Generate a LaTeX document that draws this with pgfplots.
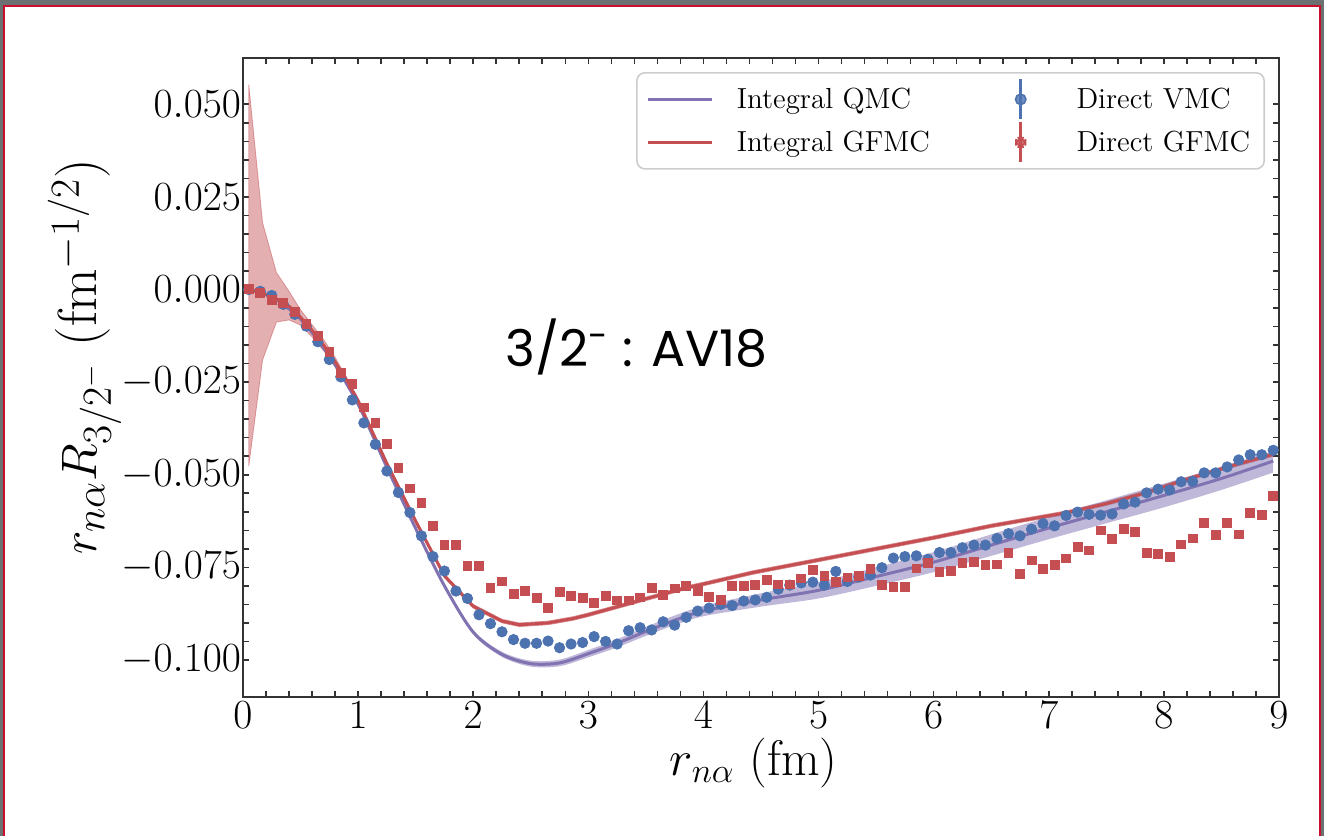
\documentclass[border=0pt]{standalone}
\usepackage{fontspec}
\usepackage{pgfplots}
\pgfplotsset{compat=1.18}
\usepackage{pgfplotstable}
\usepgfplotslibrary{fillbetween}
\newfontfamily\poppins{Poppins}
\definecolor{qmcpurple}{HTML}{8172B2}
\definecolor{gfred}{HTML}{C44E52}
\definecolor{vmcblue}{HTML}{4C72B0}
\definecolor{framegrey}{HTML}{6B7070}
\definecolor{framered}{HTML}{C8102E}

\pgfplotstableread{
x y
0.05 0.0000
0.15 -0.0005
0.25 -0.0016
0.35 -0.0040
0.45 -0.0067
0.55 -0.0099
0.65 -0.0141
0.75 -0.0189
0.85 -0.0236
0.95 -0.0298
1.05 -0.0360
1.15 -0.0418
1.25 -0.0490
1.35 -0.0548
1.45 -0.0602
1.55 -0.0665
1.65 -0.0721
1.75 -0.0760
1.85 -0.0814
1.95 -0.0834
2.05 -0.0878
2.15 -0.0902
2.25 -0.0924
2.35 -0.0945
2.45 -0.0955
2.55 -0.0955
2.65 -0.0949
2.75 -0.0967
2.85 -0.0957
2.95 -0.0953
3.05 -0.0937
3.15 -0.0950
3.25 -0.0957
3.35 -0.0921
3.45 -0.0913
3.55 -0.0919
3.65 -0.0897
3.75 -0.0906
3.85 -0.0885
3.95 -0.0868
4.05 -0.0860
4.15 -0.0850
4.25 -0.0853
4.35 -0.0841
4.45 -0.0838
4.55 -0.0831
4.65 -0.0809
4.75 -0.0798
4.85 -0.0792
4.95 -0.0790
5.05 -0.0798
5.15 -0.0761
5.25 -0.0788
5.35 -0.0776
5.45 -0.0771
5.55 -0.0751
5.65 -0.0725
5.75 -0.0721
5.85 -0.0719
5.95 -0.0728
6.05 -0.0710
6.15 -0.0710
6.25 -0.0697
6.35 -0.0690
6.45 -0.0690
6.55 -0.0672
6.65 -0.0659
6.75 -0.0665
6.85 -0.0647
6.95 -0.0632
7.05 -0.0638
7.15 -0.0610
7.25 -0.0601
7.35 -0.0607
7.45 -0.0609
7.55 -0.0606
7.65 -0.0579
7.75 -0.0574
7.85 -0.0549
7.95 -0.0539
8.05 -0.0541
8.15 -0.0519
8.25 -0.0518
8.35 -0.0495
8.45 -0.0495
8.55 -0.0479
8.65 -0.0460
8.75 -0.0446
8.85 -0.0446
8.95 -0.0434
}\vmc

\pgfplotstableread{
x y
0.05 0.0002
0.15 -0.0009
0.25 -0.0027
0.35 -0.0036
0.45 -0.0060
0.55 -0.0092
0.65 -0.0126
0.75 -0.0169
0.85 -0.0225
0.95 -0.0254
1.05 -0.0318
1.15 -0.0361
1.25 -0.0417
1.35 -0.0482
1.45 -0.0537
1.55 -0.0577
1.65 -0.0638
1.75 -0.0690
1.85 -0.0690
1.95 -0.0747
2.05 -0.0747
2.15 -0.0805
2.25 -0.0788
2.35 -0.0822
2.45 -0.0813
2.55 -0.0833
2.65 -0.0860
2.75 -0.0817
2.85 -0.0827
2.95 -0.0833
3.05 -0.0847
3.15 -0.0827
3.25 -0.0839
3.35 -0.0839
3.45 -0.0831
3.55 -0.0805
3.65 -0.0825
3.75 -0.0807
3.85 -0.0800
3.95 -0.0814
4.05 -0.0829
4.15 -0.0838
4.25 -0.0800
4.35 -0.0800
4.45 -0.0798
4.55 -0.0784
4.65 -0.0796
4.75 -0.0796
4.85 -0.0780
4.95 -0.0757
5.05 -0.0773
5.15 -0.0789
5.25 -0.0777
5.35 -0.0773
5.45 -0.0755
5.55 -0.0798
5.65 -0.0802
5.75 -0.0802
5.85 -0.0753
5.95 -0.0739
6.05 -0.0762
6.15 -0.0760
6.25 -0.0739
6.35 -0.0735
6.45 -0.0744
6.55 -0.0742
6.65 -0.0710
6.75 -0.0768
6.85 -0.0731
6.95 -0.0755
7.05 -0.0744
7.15 -0.0726
7.25 -0.0695
7.35 -0.0704
7.45 -0.0650
7.55 -0.0674
7.65 -0.0647
7.75 -0.0655
7.85 -0.0710
7.95 -0.0713
8.05 -0.0722
8.15 -0.0688
8.25 -0.0672
8.35 -0.0631
8.45 -0.0662
8.55 -0.0631
8.65 -0.0661
8.75 -0.0602
8.85 -0.0609
8.95 -0.0557
}\gfmcdirect

\pgfplotstableread{
x y lo hi
0.05 0.0000 -0.0477 0.0553
0.17 -0.0010 -0.0190 0.0180
0.29 -0.0025 -0.0088 0.0046
0.40 -0.0045 -0.0082 -0.0005
0.50 -0.0075 -0.0096 -0.0055
0.60 -0.0110 -0.0128 -0.0095
0.70 -0.0150 -0.0165 -0.0135
0.80 -0.0195 -0.0207 -0.0183
0.90 -0.0245 -0.0252 -0.0238
1.00 -0.0300 -0.0306 -0.0294
1.25 -0.0470 -0.0475 -0.0465
1.50 -0.0625 -0.0630 -0.0620
1.75 -0.0773 -0.0778 -0.0768
2.00 -0.0855 -0.0860 -0.0850
2.25 -0.0895 -0.0900 -0.0890
2.40 -0.0905 -0.0910 -0.0900
2.65 -0.0900 -0.0905 -0.0895
2.87 -0.0888 -0.0893 -0.0883
3.00 -0.0878 -0.0883 -0.0873
3.28 -0.0854 -0.0859 -0.0849
3.50 -0.0835 -0.0840 -0.0830
3.85 -0.0805 -0.0810 -0.0800
4.00 -0.0795 -0.0800 -0.0790
4.43 -0.0764 -0.0769 -0.0759
5.00 -0.0730 -0.0735 -0.0725
5.50 -0.0700 -0.0705 -0.0695
6.00 -0.0670 -0.0675 -0.0665
6.50 -0.0638 -0.0643 -0.0633
7.16 -0.0602 -0.0607 -0.0597
7.50 -0.0578 -0.0583 -0.0573
7.85 -0.0548 -0.0553 -0.0543
8.20 -0.0512 -0.0517 -0.0507
8.60 -0.0475 -0.0480 -0.0470
8.95 -0.0445 -0.0450 -0.0440
}\gfmcint

\pgfplotstableread{
x y lo hi
0.05 0.0000 -0.0003 0.0003
0.25 -0.0020 -0.0023 -0.0017
0.50 -0.0080 -0.0083 -0.0077
0.75 -0.0180 -0.0183 -0.0177
1.00 -0.0310 -0.0313 -0.0307
1.25 -0.0480 -0.0484 -0.0476
1.50 -0.0645 -0.0649 -0.0641
1.75 -0.0800 -0.0805 -0.0795
2.00 -0.0925 -0.0931 -0.0919
2.25 -0.0985 -0.0992 -0.0978
2.50 -0.1010 -0.1018 -0.1002
2.75 -0.1008 -0.1017 -0.0999
3.00 -0.0983 -0.0993 -0.0973
3.25 -0.0955 -0.0966 -0.0944
3.50 -0.0923 -0.0935 -0.0911
3.75 -0.0893 -0.0906 -0.0880
4.00 -0.0868 -0.0882 -0.0854
4.50 -0.0838 -0.0856 -0.0820
5.00 -0.0812 -0.0834 -0.0790
5.50 -0.0775 -0.0800 -0.0750
6.00 -0.0736 -0.0763 -0.0709
6.50 -0.0690 -0.0719 -0.0661
7.00 -0.0644 -0.0674 -0.0614
7.50 -0.0600 -0.0631 -0.0569
8.00 -0.0556 -0.0588 -0.0524
8.50 -0.0510 -0.0541 -0.0479
8.95 -0.0463 -0.0494 -0.0436
}\qmcint

\begin{document}
\begin{tikzpicture}
% screenshot frame (strips only, page itself is white)
\fill[framegrey] (0pt,415.5pt) rectangle (662pt,418pt);
\fill[framegrey] (0pt,0pt) rectangle (1.5pt,418pt);
\fill[framegrey] (660.5pt,0pt) rectangle (662pt,418pt);
\fill[framered] (1.5pt,0pt) rectangle (2.5pt,415.5pt);
\fill[framered] (659.5pt,0pt) rectangle (660.5pt,415.5pt);
\fill[framered] (1.5pt,414.5pt) rectangle (660.5pt,415.5pt);
\begin{axis}[
  at={(121.5pt,69.5pt)}, anchor=south west,
  width=518pt, height=319.5pt, scale only axis,
  xmin=0, xmax=9, ymin=-0.110, ymax=0.0625,
  xtick={0,1,2,3,4,5,6,7,8,9},
  ytick={-0.1,-0.075,-0.05,-0.025,0,0.025,0.05},
  minor x tick num=4, minor y tick num=4,
  scaled y ticks=false,
  tick align=inside,
  major tick length=3.2pt, minor tick length=3.2pt,
  axis line style={black!80, line width=1pt},
  every tick/.style={black!80, line width=0.8pt},
  every minor tick/.style={black!80, line width=0.8pt},
  tick label style={font=\fontsize{22}{26}\selectfont},
  yticklabel style={/pgf/number format/fixed, /pgf/number format/fixed zerofill, /pgf/number format/precision=3, xshift=2.5pt},
  xticklabel style={yshift=1pt},
  xlabel={$r_{n\alpha}$ (fm)},
  ylabel={$r_{n\alpha} R_{3/2^-}$ (fm$^{-1/2}$)},
  xlabel style={font=\fontsize{25}{29}\selectfont, at={(axis description cs:0.493,-0.103)}, anchor=center},
  ylabel style={font=\fontsize{27.5}{32}\selectfont, at={(axis description cs:-0.153,0.532)}, anchor=center},
  legend columns=2,
  legend cell align=left,
  legend style={at={(axis description cs:0.9865,0.978)}, anchor=north east,
    draw=black!20, line width=0.8pt, rounded corners=4pt,
    fill=white, fill opacity=0.8, text opacity=1, draw opacity=1,
    font=\fontsize{14.5}{16}\selectfont,
    inner xsep=5pt, inner ysep=2.5pt, row sep=0pt,
    /tikz/every odd column/.append style={column sep=9.5pt},
    /tikz/every even column/.append style={column sep=27pt}},
]
\addlegendimage{legend image code/.code={\draw[qmcpurple, line width=1.5pt] (0pt,0pt) -- (32pt,0pt);}}
\addlegendentry{Integral QMC}
\addlegendimage{legend image code/.code={\draw[white, opacity=0] (0pt,0pt) -- (32pt,0pt); \draw[vmcblue, line width=1.5pt] (16pt,-10pt) -- (16pt,10pt); \fill[vmcblue] (16pt,0pt) circle (2.6pt);}}
\addlegendentry{Direct VMC}
\addlegendimage{legend image code/.code={\draw[gfred, line width=1.5pt] (0pt,0pt) -- (32pt,0pt);}}
\addlegendentry{Integral GFMC}
\addlegendimage{legend image code/.code={\draw[white, opacity=0] (0pt,0pt) -- (32pt,0pt); \draw[gfred, line width=1.5pt] (16pt,-10pt) -- (16pt,10pt); \fill[gfred] (13.6pt,-2.4pt) rectangle (18.4pt,2.4pt);}}
\addlegendentry{Direct GFMC}

% GFMC integral band
\addplot[name path=ghi, draw=none, forget plot] table[x=x,y=hi]{\gfmcint};
\addplot[name path=glo, draw=none, forget plot] table[x=x,y=lo]{\gfmcint};
\addplot[gfred, fill opacity=0.45, draw=gfred, draw opacity=0.5, line width=0.4pt, forget plot] fill between[of=ghi and glo];
% QMC integral band
\addplot[name path=qhi, draw=none, smooth, forget plot] table[x=x,y=hi]{\qmcint};
\addplot[name path=qlo, draw=none, smooth, forget plot] table[x=x,y=lo]{\qmcint};
\addplot[qmcpurple, fill opacity=0.5, draw=none, forget plot] fill between[of=qhi and qlo];
% lines
\addplot[qmcpurple, line width=1.5pt, no marks, smooth, forget plot] table[x=x,y=y]{\qmcint};
\addplot[gfred, line width=1.5pt, no marks, forget plot] table[x=x,y=y]{\gfmcint};
% points
\addplot[only marks, mark=*, mark size=2.6pt, color=vmcblue, mark options={draw=vmcblue, fill=vmcblue}, forget plot] table[x=x,y=y]{\vmc};
\addplot[only marks, mark=square*, mark size=2.2pt, color=gfred, mark options={draw=gfred, fill=gfred}, forget plot] table[x=x,y=y]{\gfmcdirect};

\node[anchor=base west, inner sep=0pt, font=\poppins\fontsize{25.3}{29}\selectfont] at (axis cs:2.276,-0.0208) {3/2\textsuperscript{-} : AV18};
\end{axis}
\end{tikzpicture}
\end{document}
